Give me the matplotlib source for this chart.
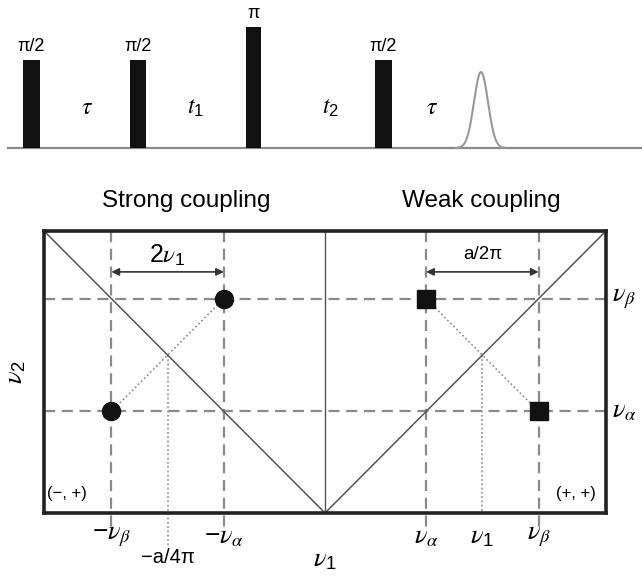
import numpy as np
import matplotlib
matplotlib.use("Agg")
import matplotlib.pyplot as plt

plt.rcParams["font.family"] = ["Liberation Sans", "DejaVu Sans"]
plt.rcParams["mathtext.fontset"] = "custom"
plt.rcParams["mathtext.rm"] = "Liberation Sans"
plt.rcParams["mathtext.it"] = "STIXGeneral:italic"

# ---------------------------------------------------------------------------
# Pulse sequence
# ---------------------------------------------------------------------------
pulse_t = [31, 138, 253.5, 383.5]           # pulse centres (time axis units)
pulse_w = [17, 16, 15, 17]                  # pulse lengths
pulse_h = [88, 88, 121, 88]                 # amplitude ~ flip angle
pulse_lbl = ["π/2", "π/2", "π", "π/2"]
delay_t = [87, 195, 330, 432]
delay_lbl = [r"$\tau$", r"$t_1$", r"$t_2$", r"$\tau$"]
echo_t0, echo_amp, echo_sig = 481, 76, 7.0

# ---------------------------------------------------------------------------
# 2D spectrum (nu1 horizontal, nu2 vertical, unit box)
# ---------------------------------------------------------------------------
nu_a = 0.36
nu_b = 0.76
strong_x = [-nu_a, -nu_b]
strong_y = [nu_b, nu_a]
weak_x = [nu_a, nu_b]
weak_y = [nu_b, nu_a]

GREY = "#8a8a8a"
DARK = "#333333"

fig = plt.figure(figsize=(6.42, 5.76), dpi=100, facecolor="white")

# ── Top: pulse sequence ───────────────────────────────────────────────────
ax_p = fig.add_axes([0, 1 - 160 / 576, 1, 160 / 576])
ax_p.set_xlim(0, 642)
ax_p.set_ylim(-12, 148)
ax_p.axis("off")

ax_p.plot([8, 642], [0, 0], color=GREY, lw=1.6, zorder=1)
ax_p.bar(pulse_t, pulse_h, width=pulse_w, color="#111111", zorder=2)
for t, h, lbl in zip(pulse_t, pulse_h, pulse_lbl):
    ax_p.text(t, h + 5, lbl, ha="center", va="bottom", fontsize=13)
for t, lbl in zip(delay_t, delay_lbl):
    ax_p.text(t, 40, lbl, ha="center", va="center", fontsize=17)

te = np.linspace(echo_t0 - 25, echo_t0 + 25, 200)
ax_p.plot(te, echo_amp * np.exp(-0.5 * ((te - echo_t0) / echo_sig) ** 2),
          color="#999999", lw=1.5, zorder=2)

# ── Bottom: correlation map ───────────────────────────────────────────────
ax = fig.add_axes([44 / 642, 1 - 513 / 576, 562 / 642, 282 / 576])
ax.set_xlim(-1, 1)
ax.set_ylim(0, 1)
ax.set_xticks([])
ax.set_yticks([])
for sp in ax.spines.values():
    sp.set_linewidth(2.6)
    sp.set_color("#222222")

# diagonals and centre line
ax.plot([-1, 0, 1], [1, 0, 1], color="#555555", lw=1.1, zorder=2)
ax.plot([0, 0], [0, 1], color="#555555", lw=1.0, zorder=2)

dash = dict(color=GREY, lw=1.6, dashes=(5, 3), zorder=1)
for yv in (nu_a, nu_b):
    ax.plot([-1, 1], [yv, yv], **dash)
for xv in (-nu_b, -nu_a, nu_a, nu_b):
    ax.plot([xv, xv], [1, -0.05], clip_on=False, **dash)

dot = dict(color=GREY, lw=1.1, dashes=(1.2, 1.6), zorder=1)
ax.plot(strong_x, strong_y, **dot)
ax.plot(weak_x, weak_y, **dot)
mid_s = -(nu_a + nu_b) / 2
mid_w = (nu_a + nu_b) / 2
ax.plot([mid_s, mid_s], [-mid_s, -0.125], clip_on=False, **dot)
ax.plot([mid_w, mid_w], [mid_w, 0], **dot)

ax.plot(strong_x, strong_y, "o", ms=13, color="#111111", zorder=4)
ax.plot(weak_x, weak_y, "s", ms=13, color="#111111", zorder=4)

# splittings
arrow = dict(arrowstyle="<|-|>", color=DARK, lw=1.2, mutation_scale=11,
             shrinkA=0, shrinkB=0)
ax.annotate("", xy=(-nu_b, 0.855), xytext=(-nu_a, 0.855), arrowprops=arrow)
ax.annotate("", xy=(nu_a, 0.855), xytext=(nu_b, 0.855), arrowprops=arrow)
ax.text(mid_s, 0.915, r"$2\nu_1$", ha="center", va="center", fontsize=18)
ax.text(mid_w, 0.915, "a/2π", ha="center", va="center", fontsize=13.5)

# axis labels
NU = 19
tick_y = -0.085
ax.text(-nu_b, tick_y, r"$-\nu_\beta$", ha="center", va="center", fontsize=NU)
ax.text(-nu_a, tick_y, r"$-\nu_\alpha$", ha="center", va="center", fontsize=NU)
ax.text(nu_a, tick_y, r"$\nu_\alpha$", ha="center", va="center", fontsize=NU)
ax.text(mid_w, tick_y, r"$\nu_1$", ha="center", va="center", fontsize=NU)
ax.text(nu_b, tick_y, r"$\nu_\beta$", ha="center", va="center", fontsize=NU)
ax.text(mid_s, -0.157, "−a/4π", ha="center", va="center", fontsize=14.5)
ax.text(0, -0.165, r"$\nu_1$", ha="center", va="center", fontsize=NU)
ax.text(1.065, nu_b, r"$\nu_\beta$", ha="center", va="center", fontsize=NU)
ax.text(1.065, nu_a, r"$\nu_\alpha$", ha="center", va="center", fontsize=NU)
ax.text(-1.10, 0.50, r"$\nu_2$", ha="center", va="center", fontsize=NU,
        rotation=90)

ax.text(-0.99, 0.07, "(−, +)", ha="left", va="center", fontsize=12)
ax.text(0.965, 0.07, "(+, +)", ha="right", va="center", fontsize=12)

ax.text(-0.495, 1.105, "Strong coupling", ha="center", va="center",
        fontsize=17.5)
ax.text(0.556, 1.105, "Weak coupling", ha="center", va="center",
        fontsize=17.5)

fig.savefig("out.png", dpi=100, facecolor="white")
plt.close(fig)
